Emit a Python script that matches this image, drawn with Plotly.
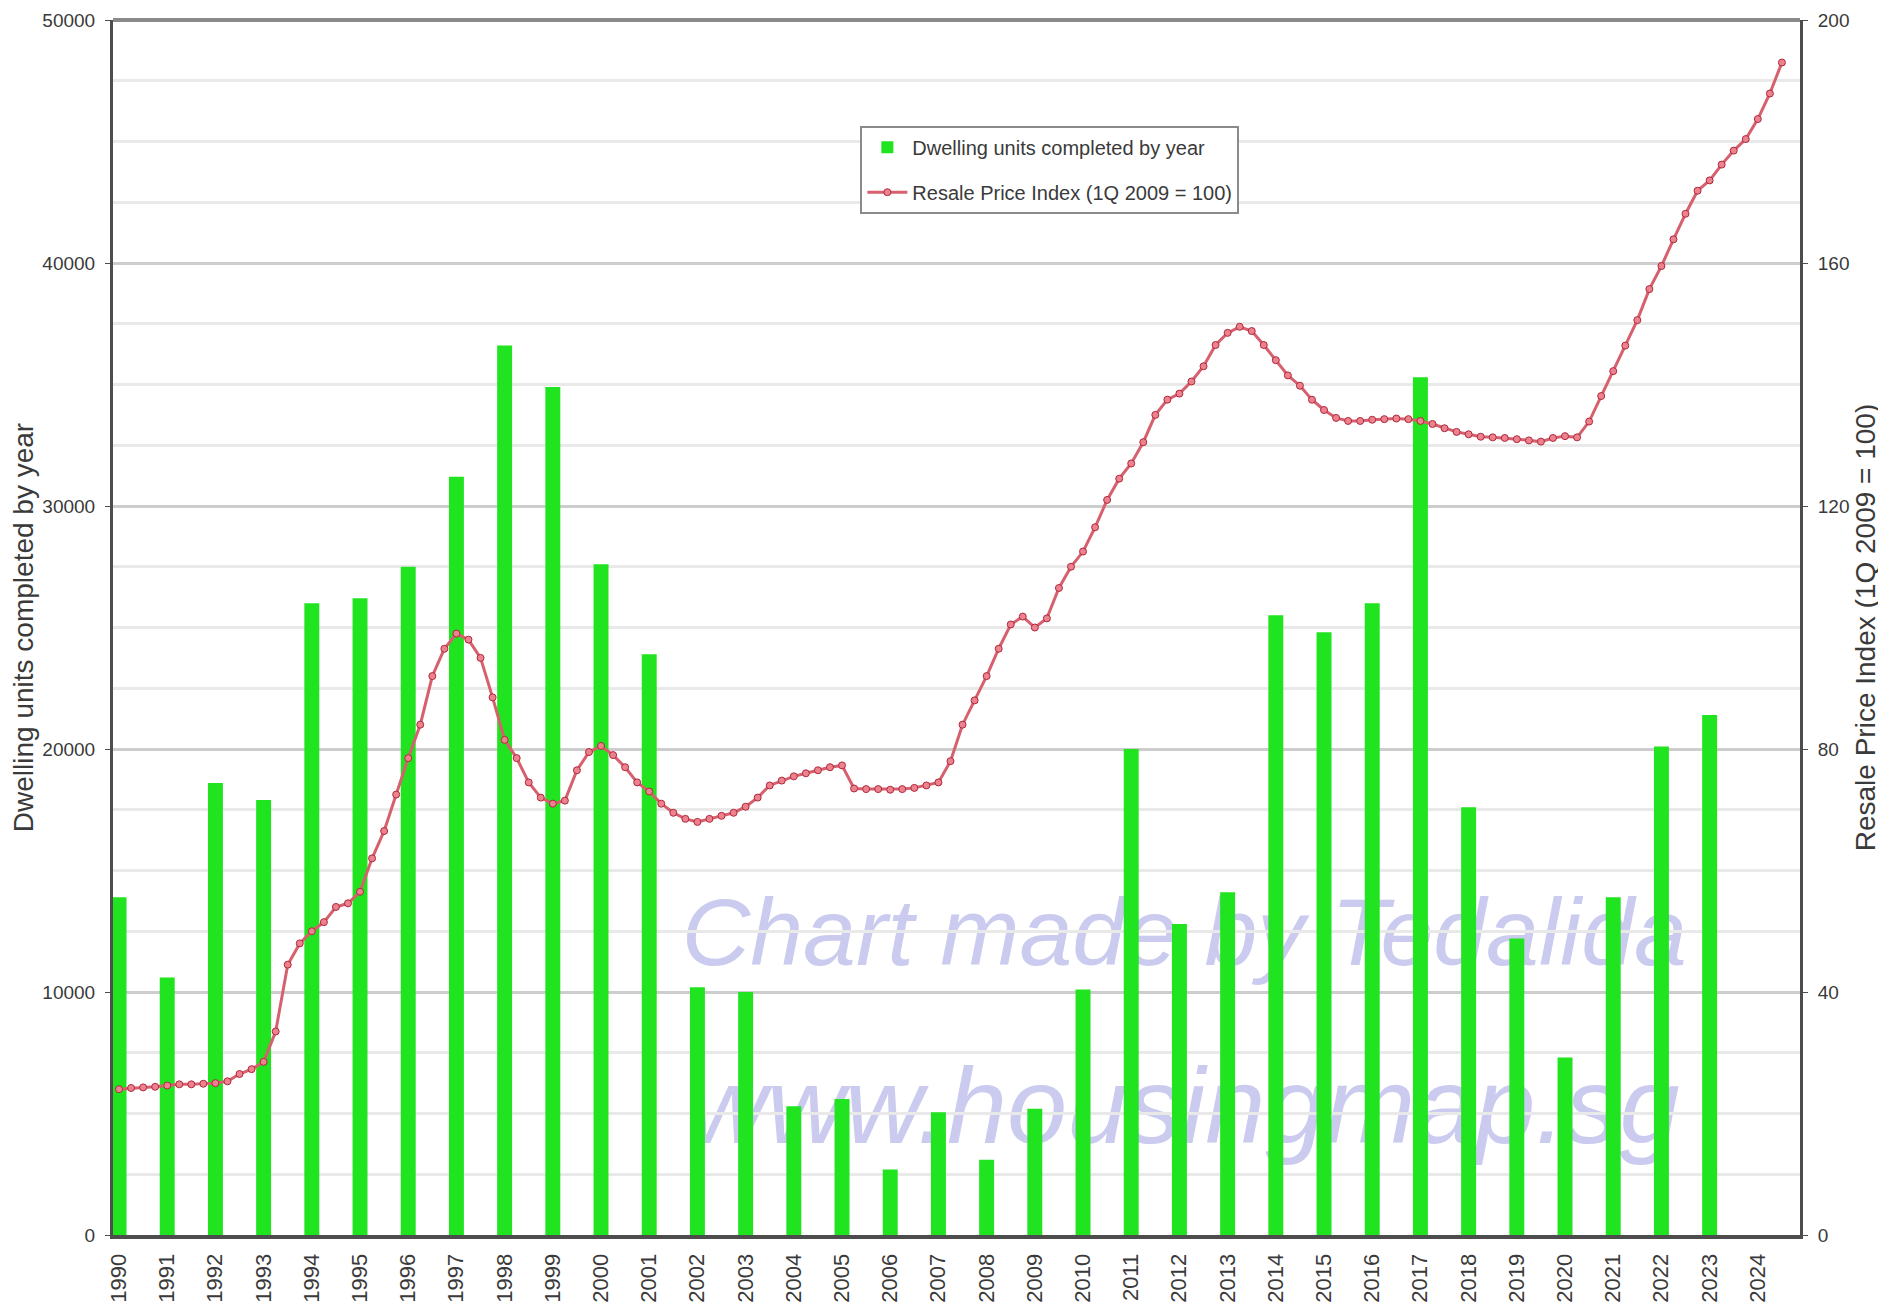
import plotly.graph_objects as go

# ---------------- data ----------------
years = list(range(1990, 2025))
dwelling_units = [13900, 10600, 18600, 17900, 26000, 26200, 27500, 31200, 36600, 34900,
                  27600, 23900, 10200, 10000, 5300, 5600, 2700, 5050, 3100, 5200,
                  10100, 20000, 12800, 14100, 25500, 24800, 26000, 35300, 17600, 12200,
                  7300, 13900, 20100, 21400, None]

# quarterly resale price index, 1Q1990 .. 3Q2024
rpi = [24.0, 24.2, 24.3, 24.4,
       24.6, 24.8, 24.8, 24.9,
       25.0, 25.3, 26.5, 27.3,
       28.5, 33.5, 44.5, 48.0,
       50.0, 51.5, 54.0, 54.6,
       56.5, 62.0, 66.5, 72.5,
       78.5, 84.0, 92.0, 96.5,
       99.0, 98.0, 95.0, 88.5,
       81.5, 78.5, 74.5, 72.0,
       71.0, 71.5, 76.5, 79.5,
       80.5, 79.0, 77.0, 74.5,
       73.0, 71.0, 69.5, 68.5,
       68.0, 68.5, 69.0, 69.5,
       70.5, 72.0, 74.0, 74.8,
       75.5, 76.0, 76.5, 77.0,
       77.3, 73.5, 73.4, 73.4,
       73.3, 73.4, 73.6, 74.0,
       74.5, 78.0, 84.0, 88.0,
       92.0, 96.5, 100.5, 101.8,
       100.0, 101.5, 106.5, 110.0,
       112.5, 116.5, 121.0, 124.5,
       127.0, 130.5, 135.0, 137.5,
       138.5, 140.5, 143.0, 146.5,
       148.5, 149.5, 148.8, 146.5,
       144.0, 141.5, 139.8, 137.5,
       135.8, 134.5, 134.0, 134.0,
       134.2, 134.3, 134.4, 134.3,
       134.0, 133.5, 132.8, 132.2,
       131.8, 131.4, 131.3, 131.2,
       131.0, 130.8, 130.6, 131.2,
       131.5, 131.3, 133.9, 138.1,
       142.2, 146.4, 150.6, 155.7,
       159.5, 163.9, 168.1, 171.9,
       173.6, 176.2, 178.5, 180.4,
       183.7, 187.9, 193.0]

year_labels = [str(y) for y in years]
bar_name = "Dwelling units completed by year"
line_name = "Resale Price Index (1Q 2009 = 100)"
left_title = "Dwelling units completed by year"
right_title = "Resale Price Index (1Q 2009 = 100)"
watermark_1 = "Chart made by Tedalida"
watermark_2 = "www.housingmap.sg"

# quarter positions on the year axis (mid-quarter)
quarter_x = [years[0] + (i + 0.5) / 4 for i in range(len(rpi))]

FONT = "Liberation Sans, Arial, sans-serif"
TXT = "#3a3a3a"
AXIS = "#4d4d4d"
WM = "#cbcbf0"

fig = go.Figure()

fig.add_trace(go.Bar(
    x=years, y=dwelling_units, name=bar_name,
    width=0.31, offset=-0.03,
    marker=dict(color="#1fe41f", line=dict(width=0)),
    legendgroup="a", yaxis="y",
))

fig.add_trace(go.Scatter(
    x=quarter_x, y=rpi, name=line_name, mode="lines+markers",
    line=dict(color="rgb(214,96,110)", width=3),
    marker=dict(symbol="circle", size=7, color="rgb(236,130,142)",
                line=dict(color="rgb(176,40,60)", width=1)),
    legendgroup="b", yaxis="y2",
))

fig.update_layout(
    width=1878, height=1305,
    margin=dict(l=105, r=86, t=12, b=78, autoexpand=False),
    plot_bgcolor="white", paper_bgcolor="white",
    font=dict(family=FONT, color=TXT),
    xaxis=dict(
        range=[1990, 2025],
        tickmode="array",
        tickvals=[y + 0.12 for y in years],
        ticktext=year_labels,
        tickangle=-90,
        tickfont=dict(size=22, color=TXT),
        showgrid=False, zeroline=False,
        showline=True, linecolor=AXIS, linewidth=4,
        ticks="", ticklabelstandoff=6, automargin=False,
    ),
    yaxis=dict(
        range=[0, 50000], dtick=10000, tickformat="d",
        tickfont=dict(size=19, color=TXT),
        showgrid=True, gridcolor="#cdcdcd", gridwidth=3,
        minor=dict(dtick=2500, showgrid=True, gridcolor="#e9e9e9", gridwidth=3),
        zeroline=False,
        showline=True, linecolor=AXIS, linewidth=3,
        ticks="outside", ticklen=5, tickcolor=AXIS,
        ticklabelstandoff=6, automargin=False,
        title=dict(text=left_title, font=dict(size=28, color=TXT), standoff=2),
    ),
    yaxis2=dict(
        range=[0, 200], dtick=40, overlaying="y", side="right",
        tickfont=dict(size=19, color=TXT),
        showgrid=False, zeroline=False,
        showline=True, linecolor=AXIS, linewidth=3,
        ticks="outside", ticklen=5, tickcolor=AXIS,
        ticklabelstandoff=6, automargin=False,
        title=dict(text=right_title, font=dict(size=28, color=TXT), standoff=4),
    ),
    legend=dict(
        x=0.443, y=0.913, xanchor="left", yanchor="top",
        bgcolor="white", bordercolor="#8a8a8a", borderwidth=2,
        font=dict(size=20, color=TXT),
        traceorder="grouped", tracegroupgap=16,
        itemwidth=40,
    ),
    shapes=[
        dict(type="line", xref="paper", yref="paper", x0=0, x1=1, y0=1, y1=1,
             line=dict(color="#8a8a8a", width=4), layer="above"),
        dict(type="rect", xref="paper", yref="paper", x0=0.30, x1=0.97, y0=0.209, y1=0.304,
             line=dict(width=0), fillcolor="rgba(0,0,0,0)", layer="below",
             label=dict(text=watermark_1, textposition="middle center",
                        font=dict(family=FONT, size=95, color=WM, style="italic"))),
        dict(type="rect", xref="paper", yref="paper", x0=0.30, x1=0.97, y0=0.065, y1=0.165,
             line=dict(width=0), fillcolor="rgba(0,0,0,0)", layer="below",
             label=dict(text=watermark_2, textposition="middle center",
                        font=dict(family=FONT, size=108, color=WM, style="italic"))),
    ],
)

fig.write_html("out.html")
